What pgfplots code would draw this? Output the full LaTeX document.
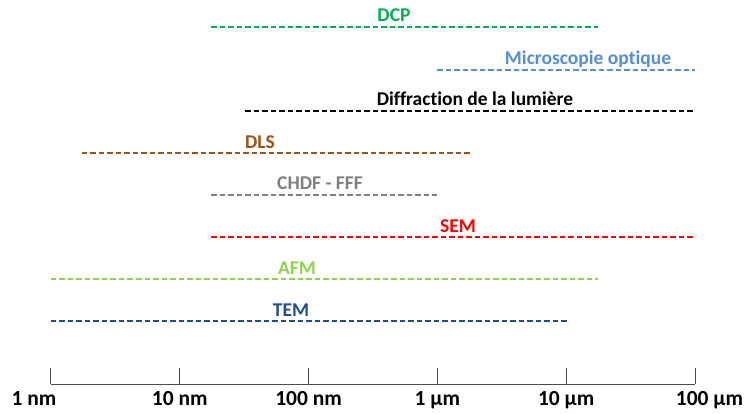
\documentclass[border=0pt]{standalone}
\usepackage{fontspec}
\setmainfont{Carlito}[Ligatures=NoCommon]
\usepackage{pgfplots}
\pgfplotsset{compat=1.18}
\definecolor{cDCP}{HTML}{00B050}
\definecolor{cMO}{HTML}{558ED5}
\definecolor{cDIF}{HTML}{000000}
\definecolor{cDLS}{HTML}{9C5218}
\definecolor{cCH}{HTML}{7F7F7F}
\definecolor{cSEM}{HTML}{FF0000}
\definecolor{cAFM}{HTML}{92D050}
\definecolor{cTEM}{HTML}{1F4E8C}
\tikzset{
  lab/.style={font=\bfseries\fontsize{19.5}{22}\selectfont, anchor=base, inner sep=0pt},
  ln/.style={line width=1.3pt, dash pattern=on 5.5pt off 3pt},
}
\begin{document}
\begin{tikzpicture}
\begin{axis}[
  name=ax,
  scale only axis, width=644pt, height=384pt,
  xmode=log, xmin=1, xmax=100000,
  ymin=-384, ymax=0,
  axis x line=bottom, axis y line=none,
  axis line style={-, black!70, line width=1pt},
  xtick={1,10,100,1000,10000,100000},
  xticklabels={1 nm\hspace*{34pt},10 nm,100 nm,1 µm,10 µm,\hspace*{29pt}100 µm},
  xminorticks=false,
  xtick align=inside,
  major tick length=16pt,
  every tick/.style={black!70, line width=1pt},
  xticklabel style={font=\bfseries\fontsize{21.5}{25}\selectfont, inner sep=0pt, anchor=base, yshift=-21.5pt},
  clip=false,
]
\addplot[ln, cDCP] coordinates {(17.5,-27) (17650,-27)};
\addplot[ln, cMO] coordinates {(1000,-70) (100000,-70)};
\addplot[ln, cDIF] coordinates {(32.1,-111) (100000,-111)};
\addplot[ln, cDLS] coordinates {(1.74,-153) (1791,-153)};
\addplot[ln, cCH] coordinates {(17.5,-195) (1000,-195)};
\addplot[ln, cSEM] coordinates {(17.5,-237) (100000,-237)};
\addplot[ln, cAFM] coordinates {(1,-279) (17650,-279)};
\addplot[ln, cTEM] coordinates {(1,-321) (10140,-321)};
\node[lab, text=cDCP] at (axis cs:460,-22) {DCP};
\node[lab, text=cMO] at (axis cs:14770,-65) {Microscopie optique};
\node[lab, text=cDIF] at (axis cs:1959,-106) {Diffraction de la lumière};
\node[lab, text=cDLS] at (axis cs:42,-148) {DLS};
\node[lab, text=cCH] at (axis cs:122.6,-190) {CHDF - FFF};
\node[lab, text=cSEM] at (axis cs:1445,-232) {SEM};
\node[lab, text=cAFM] at (axis cs:81.3,-274) {AFM};
\node[lab, text=cTEM] at (axis cs:73,-316) {TEM};
\end{axis}
\pgfresetboundingbox
\path ([xshift=-51pt,yshift=-29pt]ax.south west) rectangle ([xshift=50pt]ax.north east);
\end{tikzpicture}
\end{document}
